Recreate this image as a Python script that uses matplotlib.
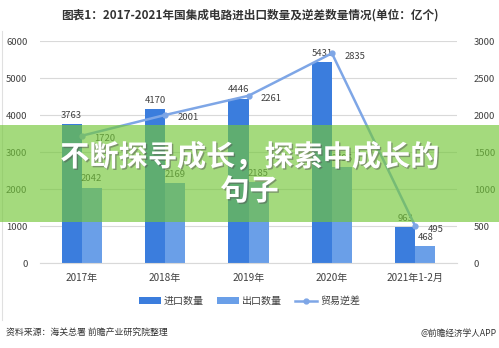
import numpy as np
import matplotlib
matplotlib.use('Agg')
import matplotlib.pyplot as plt
from matplotlib.patches import Rectangle
from matplotlib.lines import Line2D
import matplotlib.patheffects as pe

plt.rcParams['font.family'] = ['Noto Sans CJK SC', 'DejaVu Sans']

#----------data (亿个)----------------------------------------------------------
years = ['2017年', '2018年', '2019年', '2020年', '2021年1-2月']
imports = [3763, 4170, 4446, 5431, 963]
exports = [2042, 2169, 2185, 2596, 468]
deficit = [1720, 2001, 2261, 2835, 495]

c_imp = '#3b7ddd'
c_exp = '#6a9fe8'
c_line = '#7ea6e6'
txt = '#404040'

fig = plt.figure(figsize=(4.99, 3.48), dpi=100)
ax = fig.add_axes([0.080, 0.244, 0.836, 0.638])
ax2 = ax.twinx()

x = np.arange(len(years))
w = 0.24
b1 = ax.bar(x - w/2, imports, w, color=c_imp, label='进口数量', zorder=2)
b2 = ax.bar(x + w/2, exports, w, color=c_exp, label='出口数量', zorder=2)
ln, = ax2.plot(x, deficit, color=c_line, lw=1.8, marker='o', ms=3.5,
               label='贸易逆差', zorder=3)

for xi, v in zip(x, imports):
    ax.annotate(str(v), (xi - w/2, v), xytext=(0, 3), textcoords='offset points',
                ha='center', va='bottom', fontsize=6.8, color=txt)
for xi, v in zip(x, exports):
    ax.annotate(str(v), (xi + w/2, v), xytext=(0, 3), textcoords='offset points',
                ha='center', va='bottom', fontsize=6.8, color=txt)
for xi, v in zip(x, deficit):
    ax2.annotate(str(v), (xi, v), xytext=(9, -2), textcoords='offset points',
                 ha='left', va='center', fontsize=6.8, color=txt)

ax.set_ylim(0, 6000)
ax2.set_ylim(0, 3000)
ax.set_yticks(np.arange(0, 6001, 1000))
ax2.set_yticks(np.arange(0, 3001, 500))
ax.set_xlim(-0.5, len(years) - 0.5)
ax.set_xticks(x)
ax.set_xticklabels(years)
ax.grid(axis='y', color='#d9d9d9', lw=0.8, zorder=0)
ax.set_axisbelow(True)
for a in (ax, ax2):
    for s in a.spines.values():
        s.set_visible(False)
    a.tick_params(length=0, labelsize=6.8, labelcolor=txt)
ax.spines['bottom'].set_visible(True)
ax.spines['bottom'].set_color('#d9d9d9')
ax.tick_params(axis='y', pad=9)
ax2.tick_params(axis='y', pad=12)
ax.tick_params(axis='x', pad=7, labelsize=7.2)

fig.text(0.5, 0.957, '图表1：2017-2021年国集成电路进出口数量及逆差数量情况(单位：亿个)',
         ha='center', va='center', fontsize=8.4, fontweight='bold', color='#333333')

fig.legend(handles=[b1, b2, ln], loc='center', bbox_to_anchor=(0.5, 0.135), ncol=3,
           frameon=False, fontsize=7.2, handlelength=2.2, handleheight=0.6,
           columnspacing=1.3, handletextpad=0.3, labelcolor=txt)

fig.text(0.012, 0.045, '资料来源：海关总署 前瞻产业研究院整理', ha='left', va='center',
         fontsize=6.4, color='#333333')
fig.text(0.995, 0.042, '@前瞻经济学人APP', ha='right', va='center',
         fontsize=6.2, color='#333333')

fig.add_artist(Line2D([0.005, 0.005], [0.08, 0.91], color='#e0e0e0', lw=0.8))

#-----green banner with headline over the chart----------------------------------
fig.add_artist(Rectangle((0, 1 - 222/348), 1, 97/348, transform=fig.transFigure,
                         facecolor=(0.45, 0.78, 0.22), alpha=0.65, lw=0, zorder=5))
shadow = [pe.withSimplePatchShadow(offset=(1, -1), shadow_rgbFace='#555555', alpha=0.5)]
fig.text(0.5, 1 - 157/348, '不断探寻成长，探索中成长的', ha='center', va='center',
         fontsize=21, fontweight='bold', color='white', zorder=6, path_effects=shadow)
fig.text(0.5, 1 - 191/348, '句子', ha='center', va='center',
         fontsize=21, fontweight='bold', color='white', zorder=6, path_effects=shadow)

fig.savefig('out.png', dpi=100)
